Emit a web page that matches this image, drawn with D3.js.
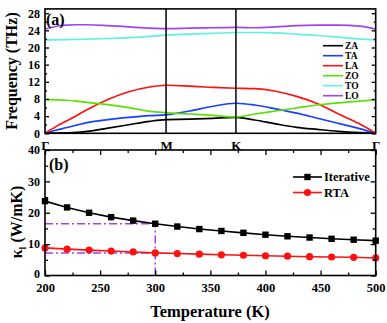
<!DOCTYPE html>
<html>
<head>
<meta charset="utf-8">
<script src="https://cdn.jsdelivr.net/npm/d3@7/dist/d3.min.js"></script>
<style>
  html, body { margin: 0; padding: 0; background: #fff; }
  svg text { font-family: "Liberation Serif", "Times New Roman", serif; font-weight: bold; }
</style>
</head>
<body>
<svg id="chart" width="387" height="323"></svg>
<script>
// ---- Phonon dispersion along Γ–M–K–Γ ----
const kLabels = ["Γ", "M", "K", "Γ"];
const kTicks = [0, 0.5774, 0.9107, 1.5774];
const kPath = [0, 0.05, 0.1, 0.15, 0.2, 0.3, 0.4, 0.5, 0.5774, 0.69, 0.8, 0.9107,
               1.0, 1.1, 1.2, 1.3, 1.4, 1.5, 1.5774];
const branchNames = ["ZA", "TA", "LA", "ZO", "TO", "LO"];
const ZA = [0, 0.05, 0.1, 0.2, 0.45, 1.2, 2.0, 2.8, 3.2, 3.3, 3.5, 3.7, 3.1, 2.2, 1.4, 0.9, 0.45, 0.15, 0];
const TA = [0, 0.7, 1.3, 1.9, 2.5, 3.2, 3.7, 4.1, 4.3, 5.2, 6.3, 7.0, 6.6, 5.7, 4.7, 3.5, 2.3, 1.1, 0];
const LA = [0, 1.5, 2.8, 4.1, 5.5, 7.9, 9.7, 10.8, 11.2, 11.0, 10.7, 10.5, 10.4, 9.8, 8.6, 6.9, 4.5, 2.2, 0];
const ZO = [7.9, 7.8, 7.7, 7.5, 7.2, 6.7, 6.0, 5.1, 4.8, 4.5, 4.2, 3.8, 4.5, 5.2, 5.9, 6.6, 7.1, 7.5, 7.8];
const TO = [21.8, 21.8, 21.85, 21.9, 21.95, 22.1, 22.3, 22.6, 22.9, 23.1, 23.3, 23.5, 23.5, 23.4, 23.1, 22.8, 22.4, 22.0, 21.8];
const LO = [24.3, 24.9, 25.2, 25.3, 25.3, 25.1, 24.8, 24.5, 24.4, 24.5, 24.6, 24.7, 24.6, 24.8, 25.1, 25.2, 25.2, 25.0, 24.3];
const freqTicks = [0, 4, 8, 12, 16, 20, 24, 28];

// ---- Lattice thermal conductivity vs temperature ----
const temperature = [200, 220, 240, 260, 280, 300, 320, 340, 360, 380, 400, 420, 440, 460, 480, 500];
const kappaIterative = [23.7, 21.7, 20.0, 18.6, 17.5, 16.5, 15.6, 14.8, 14.2, 13.6, 13.0, 12.5, 12.1, 11.7, 11.4, 11.1];
const kappaRTA = [8.8, 8.4, 8.1, 7.8, 7.5, 7.2, 7.0, 6.8, 6.6, 6.45, 6.3, 6.15, 6.0, 5.9, 5.8, 5.6];
const kappaTicks = [0, 10, 20, 30, 40];
const tempTicks = [200, 250, 300, 350, 400, 450, 500];
const ref300 = { T: 300, iterative: 16.5, rta: 7.2 };

const colors = { ZA: "#000000", TA: "#1a40ff", LA: "#ff1010", ZO: "#5ce000", TO: "#60f2e0", LO: "#a044f5" };
const branches = { ZA, TA, LA, ZO, TO, LO };

const svg = d3.select("#chart");
const left = 45, right = 375.7;

// ================= Panel (a) =================
const xa = d3.scaleLinear().domain([0, kTicks[3]]).range([left, right]);
const ya = d3.scaleLinear().domain([0, 29]).range([133.3, 8.9]);
const ga = svg.append("g");

const lineA = d3.line().x((d, i) => xa(kPath[i])).y(d => ya(d)).curve(d3.curveMonotoneX);
branchNames.forEach(name => {
  ga.append("path").datum(branches[name])
    .attr("d", lineA).attr("fill", "none")
    .attr("stroke", colors[name]).attr("stroke-width", 1.7);
});

// high-symmetry lines
ga.selectAll("line.hs").data(kTicks.slice(1, 3)).join("line")
  .attr("x1", d => xa(d)).attr("x2", d => xa(d))
  .attr("y1", ya.range()[0]).attr("y2", ya.range()[1])
  .attr("stroke", "#000").attr("stroke-width", 1.5);

// y axes (left with labels, right mirrored), major + minor ticks inward
function styleAxis(g) {
  g.select(".domain").remove();
  g.selectAll(".tick line").attr("stroke", "#000").attr("stroke-width", 1.3);
  g.selectAll(".tick text").attr("font-size", 12).attr("fill", "#000")
    .style("font-family", "'Liberation Serif', 'Times New Roman', serif").style("font-weight", "bold");
}
const minorFreq = d3.range(2, 29, 4);
ga.append("g").attr("transform", `translate(${left},0)`)
  .call(d3.axisLeft(ya).tickValues(freqTicks).tickSize(-4).tickPadding(5)).call(styleAxis);
ga.append("g").attr("transform", `translate(${left},0)`)
  .call(d3.axisLeft(ya).tickValues(minorFreq).tickSize(-2).tickFormat("")).call(styleAxis);
ga.append("g").attr("transform", `translate(${right},0)`)
  .call(d3.axisRight(ya).tickValues(freqTicks).tickSize(-4).tickFormat("")).call(styleAxis);
ga.append("g").attr("transform", `translate(${right},0)`)
  .call(d3.axisRight(ya).tickValues(minorFreq).tickSize(-2).tickFormat("")).call(styleAxis);

// k-point labels
ga.append("g").attr("transform", `translate(0,${ya.range()[0]})`)
  .call(d3.axisBottom(xa).tickValues(kTicks).tickSize(0).tickPadding(4)
    .tickFormat((d, i) => kLabels[i]))
  .call(styleAxis)
  .selectAll(".tick text").attr("font-size", 13).attr("dy", "0.95em");

// frame
ga.append("rect").attr("x", left).attr("y", ya.range()[1])
  .attr("width", right - left).attr("height", ya.range()[0] - ya.range()[1])
  .attr("fill", "none").attr("stroke", "#000").attr("stroke-width", 1.6);

ga.append("text").attr("x", 46).attr("y", 25).attr("font-size", 16).text("(a)");
ga.append("text").attr("transform", "translate(16.5,71) rotate(-90)")
  .attr("text-anchor", "middle").attr("font-size", 16).text("Frequency (THz)");

// legend (a)
const lgA = ga.append("g");
branchNames.forEach((name, i) => {
  const yy = 45.7 + i * 10;
  lgA.append("line").attr("x1", 323).attr("x2", 343).attr("y1", yy).attr("y2", yy)
    .attr("stroke", colors[name]).attr("stroke-width", 1.6);
  lgA.append("text").attr("x", 345).attr("y", yy).attr("dy", "0.35em")
    .attr("font-size", 9.5).text(name);
});

// ================= Panel (b) =================
const xb = d3.scaleLinear().domain([200, 500]).range([left, right]);
const yb = d3.scaleLinear().domain([0, 40]).range([275.5, 150]);
const gb = svg.append("g");

// 300 K guide lines
const guide = "#a044e8";
const guideLines = [
  [200, ref300.iterative, ref300.T, ref300.iterative],
  [200, ref300.rta, ref300.T, ref300.rta],
  [ref300.T, 0, ref300.T, ref300.iterative]
];
gb.selectAll("line.guide").data(guideLines).join("line")
  .attr("x1", d => xb(d[0])).attr("y1", d => yb(d[1]))
  .attr("x2", d => xb(d[2])).attr("y2", d => yb(d[3]))
  .attr("stroke", guide).attr("stroke-width", 1.5).attr("stroke-dasharray", "8,3,2,3");

const lineB = (vals) => d3.line().x((d, i) => xb(temperature[i])).y(d => yb(d))(vals);
gb.append("path").attr("d", lineB(kappaIterative)).attr("fill", "none")
  .attr("stroke", "#000").attr("stroke-width", 1.6);
gb.append("path").attr("d", lineB(kappaRTA)).attr("fill", "none")
  .attr("stroke", "#ff1010").attr("stroke-width", 1.6);

gb.selectAll("rect.sq").data(kappaIterative).join("rect")
  .attr("x", (d, i) => xb(temperature[i]) - 3.2).attr("y", d => yb(d) - 3.2)
  .attr("width", 6.4).attr("height", 6.4).attr("fill", "#000");
gb.selectAll("circle.ci").data(kappaRTA).join("circle")
  .attr("cx", (d, i) => xb(temperature[i])).attr("cy", d => yb(d))
  .attr("r", 3.6).attr("fill", "#ff1010");

// axes (b)
const minorTemp = d3.range(225, 500, 50);
const minorKappa = d3.range(5, 40, 10);
gb.append("g").attr("transform", `translate(${left},0)`)
  .call(d3.axisLeft(yb).tickValues(kappaTicks).tickSize(-5).tickPadding(5)).call(styleAxis)
  .selectAll(".tick text").attr("dy", d => d === 0 ? "0.2em" : "0.32em");
gb.append("g").attr("transform", `translate(${left},0)`)
  .call(d3.axisLeft(yb).tickValues(minorKappa).tickSize(-3).tickFormat("")).call(styleAxis);
gb.append("g").attr("transform", `translate(${right},0)`)
  .call(d3.axisRight(yb).tickValues(kappaTicks).tickSize(-5).tickFormat("")).call(styleAxis);
gb.append("g").attr("transform", `translate(${right},0)`)
  .call(d3.axisRight(yb).tickValues(minorKappa).tickSize(-3).tickFormat("")).call(styleAxis);
gb.append("g").attr("transform", `translate(0,${yb(0)})`)
  .call(d3.axisBottom(xb).tickValues(tempTicks).tickSize(-5).tickPadding(7.5)).call(styleAxis)
  .selectAll(".tick text").attr("font-size", 12.5);
gb.append("g").attr("transform", `translate(0,${yb(0)})`)
  .call(d3.axisBottom(xb).tickValues(minorTemp).tickSize(-3).tickFormat("")).call(styleAxis);
gb.append("g").attr("transform", `translate(0,${yb(40)})`)
  .call(d3.axisTop(xb).tickValues(tempTicks).tickSize(-5).tickFormat("")).call(styleAxis);
gb.append("g").attr("transform", `translate(0,${yb(40)})`)
  .call(d3.axisTop(xb).tickValues(minorTemp).tickSize(-3).tickFormat("")).call(styleAxis);

gb.append("rect").attr("x", left).attr("y", yb(40))
  .attr("width", right - left).attr("height", yb(0) - yb(40))
  .attr("fill", "none").attr("stroke", "#000").attr("stroke-width", 1.6);

gb.append("text").attr("x", 49).attr("y", 170).attr("font-size", 16).text("(b)");

const kLabel = gb.append("text").attr("transform", "translate(22,222) rotate(-90)")
  .attr("text-anchor", "middle").attr("font-size", 16);
kLabel.append("tspan").text("κ");
kLabel.append("tspan").attr("font-size", 10).attr("dy", 4).text("l");
kLabel.append("tspan").attr("dy", -4).text(" (W/mK)");

gb.append("text").attr("x", 210).attr("y", 317).attr("text-anchor", "middle")
  .attr("font-size", 16.5).text("Temperature (K)");

// legend (b)
const lgB = [{ name: "Iterative", color: "#000", shape: "square", y: 177 },
             { name: "RTA", color: "#ff1010", shape: "circle", y: 192.5 }];
lgB.forEach(d => {
  gb.append("line").attr("x1", 293).attr("x2", 322).attr("y1", d.y).attr("y2", d.y)
    .attr("stroke", d.color).attr("stroke-width", 1.6);
  if (d.shape === "square") {
    gb.append("rect").attr("x", 307.5 - 3.2).attr("y", d.y - 3.2)
      .attr("width", 6.4).attr("height", 6.4).attr("fill", d.color);
  } else {
    gb.append("circle").attr("cx", 307.5).attr("cy", d.y).attr("r", 3.6).attr("fill", d.color);
  }
  gb.append("text").attr("x", 324).attr("y", d.y).attr("dy", "0.35em")
    .attr("font-size", 12.5).text(d.name);
});
</script>
</body>
</html>
